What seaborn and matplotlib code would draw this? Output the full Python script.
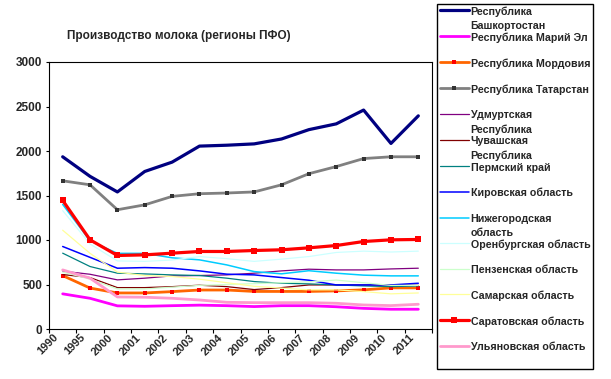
import numpy as np
import pandas as pd
import matplotlib
matplotlib.use("Agg")
import matplotlib.pyplot as plt
import matplotlib.transforms as mtransforms
import seaborn as sns


# ==========================================================
# Data (milk production, Volga federal district regions)
# ==========================================================

years = ["1990", "1995", "2000", "2001", "2002", "2003", "2004",
         "2005", "2006", "2007", "2008", "2009", "2010", "2011"]

regions = [
    "Республика\nБашкортостан",
    "Республика Марий Эл",
    "Республика Мордовия",
    "Республика Татарстан",
    "Удмуртская\nРеспублика",
    "Чувашская\nРеспублика",
    "Пермский край",
    "Кировская область",
    "Нижегородская\nобласть",
    "Оренбургская область",
    "Пензенская область",
    "Самарская область",
    "Саратовская область",
    "Ульяновская область",
]

bashkortostan = [1935, 1715, 1540, 1770, 1875, 2055, 2065, 2080, 2135, 2240, 2305, 2460, 2085, 2395]
mari_el = [395, 345, 260, 255, 262, 268, 262, 252, 262, 262, 250, 232, 222, 222]
mordovia = [600, 460, 405, 405, 420, 438, 438, 422, 422, 422, 428, 440, 462, 462]
tatarstan = [1665, 1620, 1340, 1395, 1490, 1520, 1528, 1540, 1620, 1745, 1825, 1915, 1935, 1935]
udmurtia = [650, 615, 552, 571, 597, 601, 608, 627, 653, 672, 664, 664, 675, 683]
chuvashia = [612, 578, 465, 465, 476, 492, 476, 443, 465, 495, 495, 495, 495, 490]
perm = [852, 702, 627, 619, 608, 601, 571, 533, 514, 507, 495, 484, 476, 484]
kirov = [927, 805, 683, 690, 683, 653, 616, 608, 578, 548, 495, 495, 495, 514]
nizhny = [1400, 990, 850, 850, 800, 777, 720, 645, 620, 655, 627, 605, 597, 597]
orenburg = [1330, 955, 765, 760, 775, 814, 790, 760, 785, 814, 860, 875, 865, 875]
penza = [640, 560, 450, 450, 470, 490, 500, 510, 520, 530, 550, 520, 490, 490]
samara = [1110, 850, 640, 600, 590, 560, 520, 480, 460, 440, 440, 420, 395, 405]
saratov = [1445, 1002, 826, 833, 852, 871, 871, 882, 890, 912, 938, 983, 1002, 1006]
ulyanovsk = [664, 571, 360, 357, 345, 326, 300, 296, 296, 296, 289, 270, 263, 278]

series = [bashkortostan, mari_el, mordovia, tatarstan, udmurtia, chuvashia, perm,
          kirov, nizhny, orenburg, penza, samara, saratov, ulyanovsk]

# ==========================================================
# Styles (Excel default palette)
# ==========================================================

colors = ["#000080", "#FF00FF", "#FF6600", "#808080", "#800080", "#800000", "#008080",
          "#0000FF", "#00CCFF", "#CCFFFF", "#CCFFCC", "#FFFF99", "#FF0000", "#FF99CC"]
widths = [2.3, 2.0, 2.0, 2.0, 0.9, 0.9, 0.9, 1.1, 1.1, 0.9, 0.9, 0.9, 2.3, 2.0]
markers = [None, None, "s", "s", None, None, None, None, None, None, None, None, "s", None]
msizes = [0, 0, 2.2, 2.2, 0, 0, 0, 0, 0, 0, 0, 0, 4.5, 0]
mcolors = [None, None, "#FF0000", "#333333", None, None, None, None, None, None, None, None, "#FF0000", None]

FONT = ["Liberation Sans", "DejaVu Sans"]

sns.set_style("ticks")
plt.rcParams["font.family"] = FONT
plt.rcParams["font.weight"] = "bold"

df = pd.DataFrame({
    "pos": np.tile(np.arange(len(years)), len(regions)),
    "region": np.repeat(regions, len(years)),
    "value": np.concatenate(series),
})

fig = plt.figure(figsize=(6.11, 3.79), dpi=100)
ax = fig.add_axes([49 / 611, 1 - 329 / 379, (432 - 49) / 611, (329 - 62) / 379])

for i, name in enumerate(regions):
    sub = df[df["region"] == name]
    sns.lineplot(
        data=sub, x="pos", y="value", ax=ax,
        color=colors[i], linewidth=widths[i],
        marker=markers[i], markersize=msizes[i],
        markerfacecolor=mcolors[i], markeredgecolor=mcolors[i],
        markeredgewidth=0, label=name, sort=False, zorder=2 + i,
    )

# axes
ax.set_xlim(-0.5, len(years) - 0.5)
ax.set_ylim(0, 3000)
ax.set_yticks(np.arange(0, 3001, 500))
ax.set_xticks(np.arange(-0.5, len(years), 1.0))
ax.set_xticklabels([])
ax.set_xticks(np.arange(len(years)), minor=True)
ax.set_xticklabels(years, minor=True, rotation=45, ha="right", va="center",
                   rotation_mode="anchor", fontsize=8, fontweight="bold")
ax.tick_params(axis="x", which="major", direction="out", length=3, width=0.8, color="black")
ax.tick_params(axis="x", which="minor", length=0, pad=5)
ax.tick_params(axis="y", direction="out", length=2.5, width=0.8, pad=2.5,
               labelsize=8.5, color="black")
for lab in ax.get_yticklabels():
    lab.set_fontweight("bold")
offset = mtransforms.ScaledTranslation(-6 / 100, 0, fig.dpi_scale_trans)
for lab in ax.xaxis.get_minorticklabels():
    lab.set_transform(lab.get_transform() + offset)
for sp in ax.spines.values():
    sp.set_visible(True)
    sp.set_color("black")
    sp.set_linewidth(0.8)
ax.set_xlabel("")
ax.set_ylabel("")

fig.text(67 / 611, 1 - 36 / 379, "Производство молока (регионы ПФО)",
         ha="left", va="center", fontsize=8.5, fontweight="bold")

# legend
handles, labels = ax.get_legend_handles_labels()
labels = [l if "\n" in l else l + "\n" for l in labels]
leg = ax.legend(
    handles, labels, loc="upper left",
    bbox_to_anchor=(437 / 611, 1 - 4 / 379), bbox_transform=fig.transFigure,
    frameon=True, fancybox=False, edgecolor="black", framealpha=1,
    prop={"size": 7.7, "weight": "bold", "family": FONT},
    handlelength=2.7, handletextpad=0.2, borderpad=0.25, borderaxespad=0,
    labelspacing=0.13, numpoints=1,
)
leg.get_frame().set_linewidth(1.0)
for t in leg.get_texts():
    t.set_linespacing(1.5)
for col in leg._legend_handle_box.get_children():
    for row in col.get_children():
        row.align = "top"

fig.savefig("out.png", dpi=100, facecolor="white")
